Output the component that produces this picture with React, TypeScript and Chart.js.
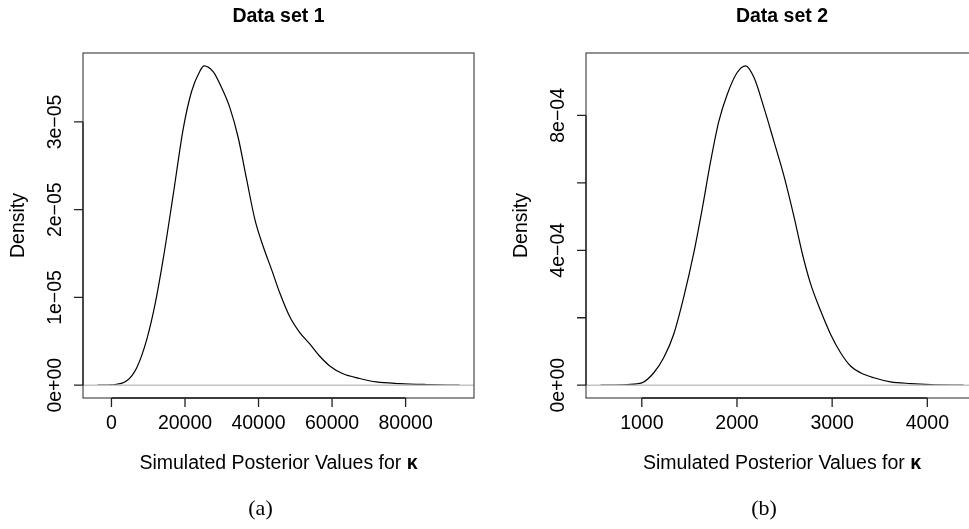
import React, { useEffect, useRef } from "react";
import { Chart, registerables } from "chart.js";

Chart.register(...registerables);

// ---------- Data ----------
const kappa1 = [-3800, 0, 4160, 6880, 9590, 11850, 14120, 16830, 19550, 21810, 24070, 25160, 27700, 29950, 32220, 34480, 36740, 39000, 41270, 43530, 45790, 48500, 51220, 53930, 56650, 59370, 62990, 67510, 72040, 78370, 85610, 94660];
const density1 = [0, 0.004e-5, 0.05e-5, 0.2e-5, 0.52e-5, 0.92e-5, 1.45e-5, 2.18e-5, 2.93e-5, 3.35e-5, 3.58e-5, 3.64e-5, 3.57e-5, 3.39e-5, 3.16e-5, 2.82e-5, 2.35e-5, 1.89e-5, 1.58e-5, 1.32e-5, 1.05e-5, 0.78e-5, 0.6e-5, 0.47e-5, 0.33e-5, 0.22e-5, 0.13e-5, 0.077e-5, 0.038e-5, 0.019e-5, 0.008e-5, 0];

const kappa2 = [566, 846, 1000, 1126, 1231, 1336, 1441, 1546, 1634, 1722, 1809, 1897, 2002, 2091, 2179, 2284, 2389, 2492, 2597, 2685, 2772, 2877, 2982, 3087, 3193, 3298, 3438, 3613, 3825, 4035, 4380];
const density2 = [0, 0.02e-4, 0.07e-4, 0.37e-4, 0.82e-4, 1.52e-4, 2.62e-4, 3.92e-4, 5.22e-4, 6.62e-4, 7.82e-4, 8.62e-4, 9.27e-4, 9.47e-4, 9.12e-4, 8.22e-4, 7.22e-4, 6.22e-4, 5.02e-4, 3.92e-4, 3.02e-4, 2.22e-4, 1.52e-4, 0.97e-4, 0.57e-4, 0.37e-4, 0.22e-4, 0.1e-4, 0.05e-4, 0.02e-4, 0];

const xTicks1 = [0, 20000, 40000, 60000, 80000];
const xTickLabels1 = ["0", "20000", "40000", "60000", "80000"];
const yTicks1 = [0, 1e-5, 2e-5, 3e-5];
const yTickLabels1 = ["0e+00", "1e\u221205", "2e\u221205", "3e\u221205"];

const xTicks2 = [1000, 2000, 3000, 4000];
const xTickLabels2 = ["1000", "2000", "3000", "4000"];
const yTicks2 = [0, 2e-4, 4e-4, 6e-4, 8e-4];
const yTickLabels2 = ["0e+00", "", "4e\u221204", "", "8e\u221204"];

const titles = ["Data set 1", "Data set 2"];
const captions = ["(a)", "(b)"];
const xAxisTitle = "Simulated Posterior Values for ";
const kappaSymbol = "\u03BA";
const yAxisTitle = "Density";

const FONT = "'Liberation Sans', Arial, Helvetica, sans-serif";
const FS = 19.5;

type PanelProps = {
  xs: number[];
  ys: number[];
  xTicks: number[];
  xTickLabels: string[];
  yTicks: number[];
  yTickLabels: string[];
  title: string;
  caption: string;
  left: number;
  width: number;
  padLeft: number;
  padRight: number;
};

function ext(arr: number[]) {
  const mn = Math.min(...arr);
  const mx = Math.max(...arr);
  const r = mx - mn;
  return [mn - 0.04 * r, mx + 0.04 * r];
}

function Panel(p: PanelProps) {
  const ref = useRef<HTMLCanvasElement | null>(null);
  useEffect(() => {
    if (!ref.current) return;
    const [xmin, xmax] = ext(p.xs);
    const [ymin, ymax] = ext(p.ys);
    const decor = {
      id: "rdecor",
      afterDatasetsDraw(chart: any) {
        const ctx = chart.ctx;
        const { left, right } = chart.chartArea;
        const sy = chart.scales.y;
        const y0 = sy.getPixelForValue(0);
        ctx.save();
        ctx.strokeStyle = "#c4c4c4";
        ctx.lineWidth = 1.6;
        ctx.beginPath();
        ctx.moveTo(left, y0);
        ctx.lineTo(right, y0);
        ctx.stroke();
        ctx.restore();
      },
      afterDraw(chart: any) {
        const ctx = chart.ctx;
        const { left, right, top, bottom } = chart.chartArea;
        const sx = chart.scales.x;
        const sy = chart.scales.y;
        ctx.save();
        // box
        ctx.strokeStyle = "#3a3a3a";
        ctx.lineWidth = 1.1;
        ctx.strokeRect(left, top, right - left, bottom - top);
        ctx.strokeStyle = "#222";
        ctx.lineWidth = 1.3;
        const tl = 9;
        const xf = sx.getPixelForValue(p.xTicks[0]);
        const xl = sx.getPixelForValue(p.xTicks[p.xTicks.length - 1]);
        ctx.beginPath();
        ctx.moveTo(xf, bottom);
        ctx.lineTo(xl, bottom);
        p.xTicks.forEach((v) => {
          const px = sx.getPixelForValue(v);
          ctx.moveTo(px, bottom);
          ctx.lineTo(px, bottom + tl);
        });
        ctx.stroke();
        const yf = sy.getPixelForValue(p.yTicks[0]);
        const yl = sy.getPixelForValue(p.yTicks[p.yTicks.length - 1]);
        ctx.beginPath();
        ctx.moveTo(left, yf);
        ctx.lineTo(left, yl);
        p.yTicks.forEach((v) => {
          const py = sy.getPixelForValue(v);
          ctx.moveTo(left, py);
          ctx.lineTo(left - tl, py);
        });
        ctx.stroke();

        ctx.fillStyle = "#000";
        ctx.font = `${FS}px ${FONT}`;
        ctx.textAlign = "center";
        ctx.textBaseline = "middle";
        p.xTicks.forEach((v, i) => {
          ctx.fillText(p.xTickLabels[i], sx.getPixelForValue(v), bottom + 26);
        });
        p.yTicks.forEach((v, i) => {
          const lab = p.yTickLabels[i];
          if (!lab) return;
          ctx.save();
          ctx.translate(left - 27, sy.getPixelForValue(v));
          ctx.rotate(-Math.PI / 2);
          ctx.textAlign = "center";
          ctx.textBaseline = "middle";
          ctx.fillText(lab, 0, 0);
          ctx.restore();
        });
        ctx.save();
        ctx.translate(left - 64, (top + bottom) / 2);
        ctx.rotate(-Math.PI / 2);
        ctx.textAlign = "center";
        ctx.textBaseline = "middle";
        ctx.fillText(yAxisTitle, 0, 0);
        ctx.restore();
        const cx = (left + right) / 2;
        const w1 = ctx.measureText(xAxisTitle).width;
        ctx.font = `bold ${FS}px ${FONT}`;
        const w2 = ctx.measureText(kappaSymbol).width;
        const sx0 = cx - (w1 + w2) / 2;
        ctx.textAlign = "left";
        ctx.font = `${FS}px ${FONT}`;
        ctx.fillText(xAxisTitle, sx0, bottom + 66);
        ctx.font = `bold ${FS}px ${FONT}`;
        ctx.fillText(kappaSymbol, sx0 + w1, bottom + 66);
        ctx.textAlign = "center";
        ctx.font = `bold ${FS}px ${FONT}`;
        ctx.fillText(p.title, cx, 17);
        ctx.font = `22px 'Liberation Serif', 'DejaVu Serif', serif`;
        ctx.fillText(p.caption, cx - 18, 509);
        ctx.restore();
      },
    };
    const chart = new Chart(ref.current, {
      type: "line",
      data: {
        datasets: [
          {
            data: p.xs.map((x, i) => ({ x, y: p.ys[i] })),
            borderColor: "#000",
            borderWidth: 1.2,
            pointRadius: 0,
            fill: false,
            cubicInterpolationMode: "monotone",
          },
        ],
      },
      options: {
        responsive: false,
        animation: false,
        events: [],
        layout: { padding: { left: p.padLeft, right: p.padRight, top: 53, bottom: 131 } },
        plugins: { legend: { display: false }, title: { display: false }, tooltip: { enabled: false } },
        scales: {
          x: { type: "linear", min: xmin, max: xmax, display: false },
          y: { type: "linear", min: ymin, max: ymax, display: false },
        },
      },
      plugins: [decor],
    } as any);
    return () => chart.destroy();
  }, []);
  return (
    <canvas
      ref={ref}
      width={p.width}
      height={529}
      style={{ position: "absolute", left: p.left, top: 0, width: p.width, height: 529 }}
    />
  );
}

export default function App() {
  return (
    <div
      style={{
        position: "absolute",
        left: 0,
        top: 0,
        width: 969,
        height: 529,
        overflow: "hidden",
        background: "#fff",
      }}
    >
      <Panel
        xs={kappa1}
        ys={density1}
        xTicks={xTicks1}
        xTickLabels={xTickLabels1}
        yTicks={yTicks1}
        yTickLabels={yTickLabels1}
        title={titles[0]}
        caption={captions[0]}
        left={0}
        width={485}
        padLeft={83}
        padRight={11}
      />
      <Panel
        xs={kappa2}
        ys={density2}
        xTicks={xTicks2}
        xTickLabels={xTickLabels2}
        yTicks={yTicks2}
        yTickLabels={yTickLabels2}
        title={titles[1]}
        caption={captions[1]}
        left={485}
        width={510}
        padLeft={101}
        padRight={17}
      />
    </div>
  );
}
